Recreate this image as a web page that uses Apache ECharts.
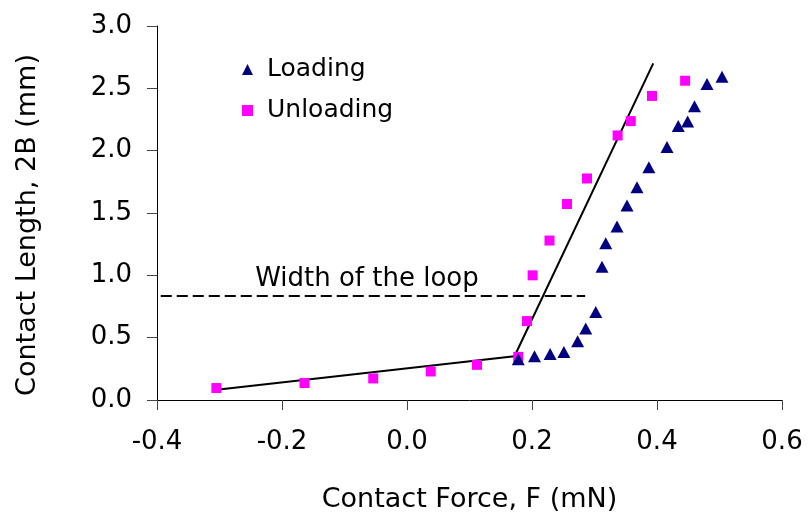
<!DOCTYPE html>
<html>
<head>
<meta charset="utf-8">
<script src="https://cdn.jsdelivr.net/npm/echarts@6/dist/echarts.min.js"></script>
<style>
html,body{margin:0;padding:0;background:#fff;}
#chart{width:809px;height:513px;}
</style>
</head>
<body>
<div id="chart"></div>
<script>
// Loading data: [force (mN), contact length (mm)]
const loadingForce  = [0.178, 0.204, 0.229, 0.251, 0.273, 0.286, 0.302, 0.312, 0.318, 0.336, 0.352, 0.368, 0.387, 0.416, 0.434, 0.449, 0.460, 0.480, 0.504];
const loadingLength = [0.327, 0.351, 0.369, 0.385, 0.471, 0.574, 0.705, 1.069, 1.258, 1.391, 1.561, 1.707, 1.867, 2.029, 2.197, 2.234, 2.356, 2.535, 2.593];
// Unloading data
const unloadingForce  = [-0.305, -0.164, -0.054, 0.038, 0.112, 0.178, 0.192, 0.201, 0.228, 0.256, 0.288, 0.337, 0.358, 0.392, 0.445];
const unloadingLength = [0.096, 0.136, 0.173, 0.229, 0.282, 0.346, 0.633, 1.000, 1.279, 1.572, 1.777, 2.122, 2.237, 2.439, 2.561];
// Fitted bilinear line
const fitForce  = [-0.308, 0.172, 0.394];
const fitLength = [0.080, 0.351, 2.700];
// "Width of the loop" dashed line
const loopForce  = [-0.394, 0.285];
const loopLength = [0.834, 0.834];
const loopLabel = 'Width of the loop';
const loopLabelAt = [-0.243, 0.97];
// Axis ticks
const xTicks = {min: -0.4, max: 0.6, interval: 0.2};
const yTicks = {min: 0, max: 3.0, interval: 0.5};

const zip = (a, b) => a.map((v, i) => [v, b[i]]);
const FONT = 'DejaVu Sans';

const chart = echarts.init(document.getElementById('chart'), null, {renderer: 'canvas'});
chart.setOption({
  animation: false,
  backgroundColor: '#ffffff',
  grid: {left: 157, right: 27, top: 26, bottom: 113, containLabel: false, outerBoundsMode: 'none'},
  xAxis: {
    type: 'value', min: xTicks.min, max: xTicks.max, interval: xTicks.interval,
    name: 'Contact Force, F (mN)', nameLocation: 'middle', nameGap: 86,
    nameTextStyle: {fontFamily: FONT, fontSize: 27, color: '#000'},
    axisLine: {show: true, onZero: false, lineStyle: {color: '#000', width: 1}},
    axisTick: {show: true, inside: false, length: 10, lineStyle: {color: '#444'}},
    axisLabel: {margin: 29, fontFamily: FONT, fontSize: 26, color: '#000', formatter: v => v.toFixed(1)},
    splitLine: {show: false}
  },
  yAxis: {
    type: 'value', min: yTicks.min, max: yTicks.max, interval: yTicks.interval,
    axisLine: {show: true, onZero: false, lineStyle: {color: '#000', width: 1}},
    axisTick: {show: true, inside: false, length: 10, lineStyle: {color: '#444'}},
    axisLabel: {margin: 25, fontFamily: FONT, fontSize: 26, color: '#000', formatter: v => v.toFixed(1)},
    splitLine: {show: false}
  },
  legend: {
    orient: 'vertical', left: 237, top: 52, itemGap: 16,
    itemWidth: 11, itemHeight: 11,
    textStyle: {fontFamily: FONT, fontSize: 25, color: '#000', padding: [0, 0, 0, 9]},
    data: [{name: 'Loading', icon: 'triangle'}, {name: 'Unloading', icon: 'rect'}]
  },
  graphic: [{
    type: 'text', x: 28, y: 225, rotation: Math.PI / 2,
    style: {text: 'Contact Length, 2B (mm)', fontFamily: FONT, fontSize: 27, fill: '#000', align: 'center', verticalAlign: 'middle'}
  }],
  series: [
    {
      name: 'Fit', type: 'line', data: zip(fitForce, fitLength), symbol: 'none',
      lineStyle: {color: '#000', width: 2}, z: 3, silent: true
    },
    {
      name: 'Loop', type: 'line', data: zip(loopForce, loopLength), symbol: 'none',
      lineStyle: {color: '#000', width: 2, type: [11, 5]}, z: 3, silent: true
    },
    {
      name: 'LoopLabel', type: 'scatter', data: [loopLabelAt], symbolSize: 0,
      itemStyle: {opacity: 1},
      label: {show: true, formatter: loopLabel, position: [0, 0], align: 'left', verticalAlign: 'middle',
        fontFamily: FONT, fontSize: 26, color: '#000', opacity: 1}, silent: true
    },
    {
      name: 'Unloading', type: 'scatter', data: zip(unloadingForce, unloadingLength),
      symbol: 'rect', symbolSize: 10, itemStyle: {color: '#ff00ff', opacity: 1}, z: 4
    },
    {
      name: 'Loading', type: 'scatter', data: zip(loadingForce, loadingLength),
      symbol: 'triangle', symbolSize: [13, 12], itemStyle: {color: '#000080', opacity: 1}, z: 5
    }
  ]
});
</script>
</body>
</html>
